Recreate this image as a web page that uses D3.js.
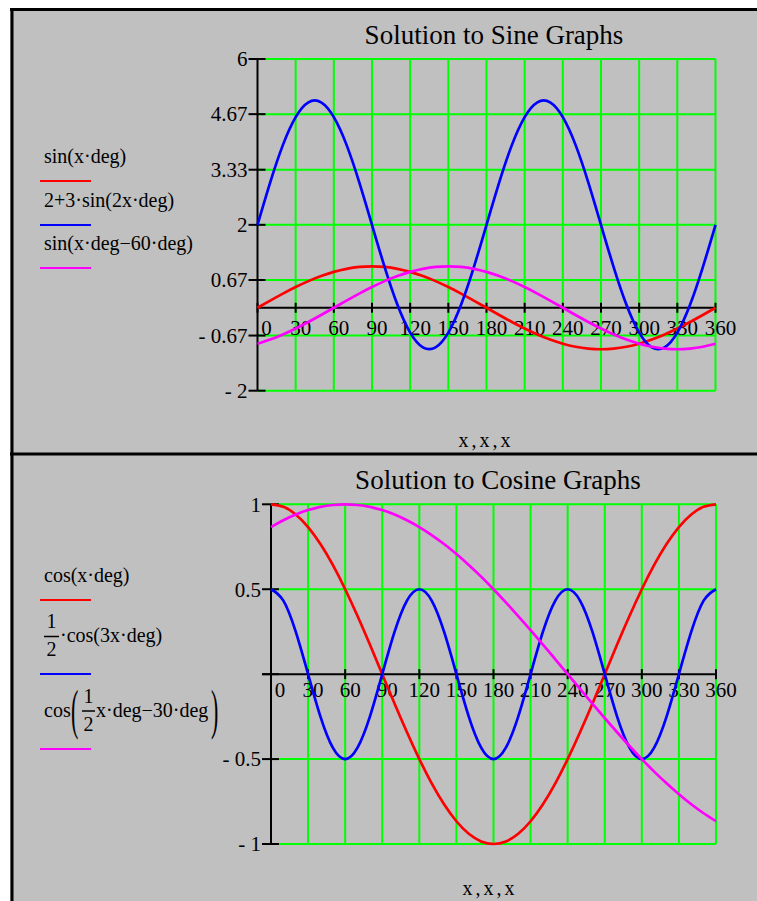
<!DOCTYPE html>
<html>
<head>
<meta charset="utf-8">
<script src="https://cdn.jsdelivr.net/npm/d3@7"></script>
<style>
  body { margin: 0; background: #fff; }
  text { font-family: "Liberation Serif", "Times New Roman", serif; fill: #000; }
</style>
</head>
<body>
<div id="chart"></div>
<script>
//------------------------------- data -------------------------------
var xValues = [0,10,20,30,40,50,60,70,80,90,100,110,120,130,140,150,160,170,180,
	190,200,210,220,230,240,250,260,270,280,290,300,310,320,330,340,350,360];
var xTicks = [0,30,60,90,120,150,180,210,240,270,300,330,360];

// sine panel
var sinX = [0,.174,.342,.5,.643,.766,.866,.94,.985,1,.985,.94,.866,.766,.643,.5,.342,.174,0,
	-.174,-.342,-.5,-.643,-.766,-.866,-.94,-.985,-1,-.985,-.94,-.866,-.766,-.643,-.5,-.342,-.174,0];
var sin2X = [2,3.026,3.929,4.598,4.954,4.954,4.598,3.929,3.026,2,.974,.071,-.598,-.954,-.954,-.598,.071,.974,2,
	3.026,3.929,4.598,4.954,4.954,4.598,3.929,3.026,2,.974,.071,-.598,-.954,-.954,-.598,.071,.974,2];
var sinXm60 = [-.866,-.766,-.643,-.5,-.342,-.174,0,.174,.342,.5,.643,.766,.866,.94,.985,1,.985,.94,.866,
	.766,.643,.5,.342,.174,0,-.174,-.342,-.5,-.643,-.766,-.866,-.94,-.985,-1,-.985,-.94,-.866];
var sinYTicks = [6,4.67,3.33,2,0.67,-0.67,-2];
var sinYLabels = ["6","4.67","3.33","2","0.67","- 0.67","- 2"];

// cosine panel
var cosX = [1,.985,.94,.866,.766,.643,.5,.342,.174,0,-.174,-.342,-.5,-.643,-.766,-.866,-.94,-.985,-1,
	-.985,-.94,-.866,-.766,-.643,-.5,-.342,-.174,0,.174,.342,.5,.643,.766,.866,.94,.985,1];
var cos3X = [.5,.433,.25,0,-.25,-.433,-.5,-.433,-.25,0,.25,.433,.5,.433,.25,0,-.25,-.433,-.5,
	-.433,-.25,0,.25,.433,.5,.433,.25,0,-.25,-.433,-.5,-.433,-.25,0,.25,.433,.5];
var cosHalf = [.866,.906,.94,.966,.985,.996,1,.996,.985,.966,.94,.906,.866,.819,.766,.707,.643,.574,.5,
	.423,.342,.259,.174,.087,0,-.087,-.174,-.259,-.342,-.423,-.5,-.574,-.643,-.707,-.766,-.819,-.866];
var cosYTicks = [1,0.5,0,-0.5,-1];
var cosYLabels = ["1","0.5","","- 0.5","- 1"];

var seriesColors = ["#ff0000", "#0000ff", "#ff00ff"];

//------------------------------- svg container -------------------------------
var W = 757, H = 901;
var svg = d3.select("#chart").append("svg")
	.attr("width", W)
	.attr("height", H);

svg.append("rect").attr("x", 0).attr("y", 0).attr("width", W).attr("height", H).style("fill", "#fff");
svg.append("rect").attr("x", 10).attr("y", 8).attr("width", W - 10).attr("height", H - 8).style("fill", "#c0c0c0");
//frame lines
svg.append("line").attr("x1", 10).attr("x2", W).attr("y1", 9.5).attr("y2", 9.5)
	.style("stroke", "#000").style("stroke-width", 3);
svg.append("line").attr("x1", 12).attr("x2", 12).attr("y1", 8).attr("y2", H)
	.style("stroke", "#000").style("stroke-width", 3);
svg.append("line").attr("x1", 10).attr("x2", W).attr("y1", 454).attr("y2", 454)
	.style("stroke", "#000").style("stroke-width", 3);

//------------------------------- one panel -------------------------------
function drawPanel(p) {
	var g = svg.append("g");
	var x = d3.scaleLinear().domain([0, 360]).range(p.xRange);
	var y = d3.scaleLinear().domain(p.yDomain).range(p.yRange);
	var top = y(p.yDomain[1]), bottom = y(p.yDomain[0]);

	//title
	g.append("text")
		.attr("x", p.titleX).attr("y", p.titleY)
		.style("text-anchor", "middle")
		.style("font-size", "27px")
		.text(p.title);

	//green grid
	g.selectAll(".vgrid").data(xTicks.slice(1)).enter().append("line")
		.attr("x1", function(d) { return x(d); }).attr("x2", function(d) { return x(d); })
		.attr("y1", top).attr("y2", bottom)
		.style("stroke", "#00ff00").style("stroke-width", 2);
	g.selectAll(".hgrid").data(p.yTicks.filter(function(d) { return d !== 0; })).enter().append("line")
		.attr("x1", x(0)).attr("x2", x(360))
		.attr("y1", function(d) { return y(d); }).attr("y2", function(d) { return y(d); })
		.style("stroke", "#00ff00").style("stroke-width", 2);

	//black axes
	g.append("line").attr("x1", x(0)).attr("x2", x(0)).attr("y1", top).attr("y2", bottom)
		.style("stroke", "#000").style("stroke-width", 2);
	g.append("line").attr("x1", x(0) - p.axisLeft).attr("x2", x(360)).attr("y1", y(0)).attr("y2", y(0))
		.style("stroke", "#000").style("stroke-width", 2);
	g.selectAll(".xtick").data(xTicks).enter().append("line")
		.attr("x1", function(d) { return x(d); }).attr("x2", function(d) { return x(d); })
		.attr("y1", y(0) - 5).attr("y2", y(0) + 5)
		.style("stroke", "#000").style("stroke-width", 2);
	g.selectAll(".ytick").data(p.yTicks).enter().append("line")
		.attr("x1", x(0) - 9).attr("x2", x(0) + 8)
		.attr("y1", function(d) { return y(d); }).attr("y2", function(d) { return y(d); })
		.style("stroke", "#000").style("stroke-width", 2);

	//tick labels
	g.selectAll(".xlab").data(xTicks).enter().append("text")
		.attr("x", function(d, i) { return x(d) + (i === 0 ? 9 : 5); })
		.attr("y", y(0) + p.xLabelDy)
		.style("text-anchor", "middle")
		.style("font-size", "21px")
		.text(function(d) { return d; });
	g.selectAll(".ylab").data(p.yTicks).enter().append("text")
		.attr("x", x(0) - 10)
		.attr("y", function(d) { return y(d); })
		.attr("dy", "0.35em")
		.style("text-anchor", "end")
		.style("font-size", "21px")
		.text(function(d, i) { return p.yLabels[i]; });

	//x axis title
	g.append("text")
		.attr("x", p.xTitleX).attr("y", p.xTitleY)
		.style("text-anchor", "middle")
		.style("font-size", "20px")
		.style("letter-spacing", "3px")
		.text("x,x,x");

	//curves
	var line = d3.line()
		.x(function(d, i) { return x(xValues[i]); })
		.y(function(d) { return y(d); })
		.curve(d3.curveNatural);
	g.selectAll(".curve").data(p.series).enter().append("path")
		.attr("d", line)
		.style("fill", "none")
		.style("stroke", function(d, i) { return seriesColors[i]; })
		.style("stroke-width", 2.7);

	//legend swatches
	g.selectAll(".swatch").data(p.swatchY).enter().append("line")
		.attr("x1", 40).attr("x2", 91)
		.attr("y1", function(d) { return d; }).attr("y2", function(d) { return d; })
		.style("stroke", function(d, i) { return seriesColors[i]; })
		.style("stroke-width", 2);
	return g;
}

//------------------------------- sine panel -------------------------------
var gSin = drawPanel({
	title: "Solution to Sine Graphs", titleX: 494, titleY: 44,
	xRange: [257.5, 715.5], yDomain: [-2, 6], yRange: [390.7, 59],
	yTicks: sinYTicks, yLabels: sinYLabels,
	axisLeft: 0, xLabelDy: 27,
	xTitleX: 486, xTitleY: 447,
	series: [sinX, sin2X, sinXm60],
	swatchY: [181, 225, 268]
});
var legFont = "20px";
gSin.append("text").attr("x", 44).attr("y", 163).style("font-size", legFont).text("sin(x·deg)");
gSin.append("text").attr("x", 44).attr("y", 207).style("font-size", legFont).text("2+3·sin(2x·deg)");
gSin.append("text").attr("x", 44).attr("y", 250).style("font-size", legFont).text("sin(x·deg−60·deg)");

//------------------------------- cosine panel -------------------------------
var gCos = drawPanel({
	title: "Solution to Cosine Graphs", titleX: 498, titleY: 489,
	xRange: [271, 716], yDomain: [-1, 1], yRange: [844, 504.3],
	yTicks: cosYTicks, yLabels: cosYLabels,
	axisLeft: 9, xLabelDy: 23,
	xTitleX: 490, xTitleY: 895,
	series: [cosX, cos3X, cosHalf],
	swatchY: [600, 674, 749]
});
gCos.append("text").attr("x", 44).attr("y", 582).style("font-size", legFont).text("cos(x·deg)");
//1/2 · cos(3x·deg)
gCos.append("text").attr("x", 51.5).attr("y", 628).style("font-size", legFont).style("text-anchor", "middle").text("1");
gCos.append("line").attr("x1", 44).attr("x2", 59).attr("y1", 636.5).attr("y2", 636.5)
	.style("stroke", "#000").style("stroke-width", 1.5);
gCos.append("text").attr("x", 51.5).attr("y", 656).style("font-size", legFont).style("text-anchor", "middle").text("2");
gCos.append("text").attr("x", 60).attr("y", 642).style("font-size", legFont).text("·cos(3x·deg)");
//cos(1/2 x·deg − 30·deg) with tall brackets
gCos.append("text").attr("x", 44).attr("y", 717).style("font-size", legFont).text("cos");
gCos.append("text").attr("transform", "translate(71,728) scale(1,2.5)")
	.style("font-size", "22px").text("(");
gCos.append("text").attr("x", 88.5).attr("y", 703).style("font-size", legFont).style("text-anchor", "middle").text("1");
gCos.append("line").attr("x1", 82).attr("x2", 95).attr("y1", 711).attr("y2", 711)
	.style("stroke", "#000").style("stroke-width", 1.5);
gCos.append("text").attr("x", 88.5).attr("y", 731).style("font-size", legFont).style("text-anchor", "middle").text("2");
gCos.append("text").attr("x", 96).attr("y", 717).style("font-size", legFont).text("x·deg−30·deg");
gCos.append("text").attr("transform", "translate(211,728) scale(1,2.5)")
	.style("font-size", "22px").text(")");
</script>
</body>
</html>
